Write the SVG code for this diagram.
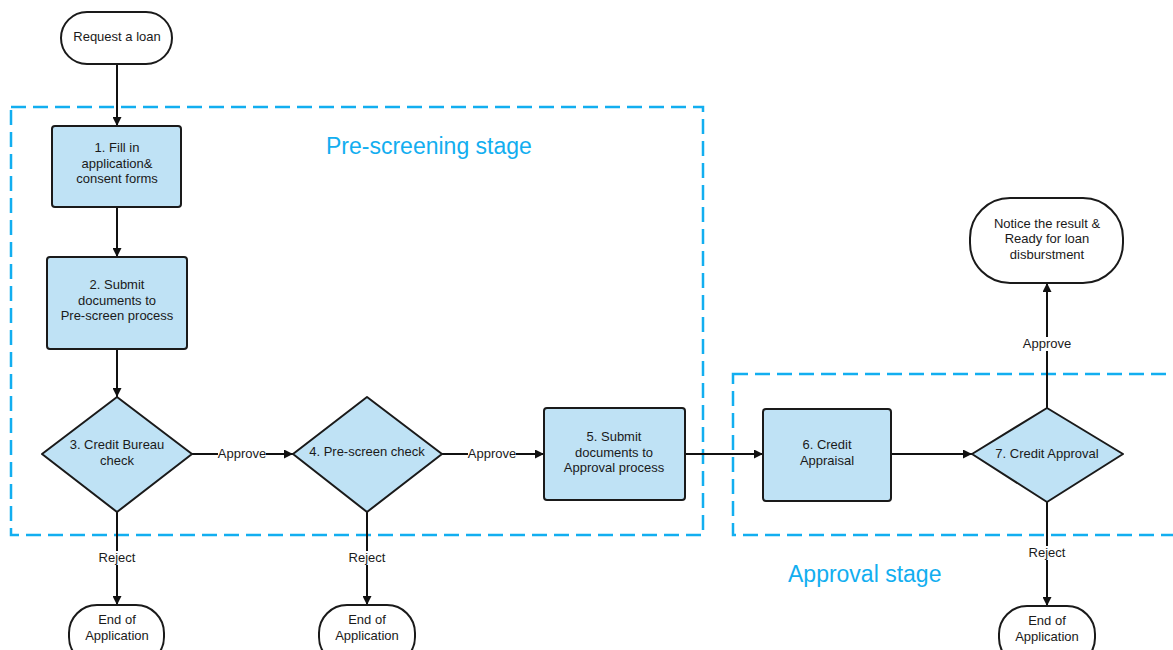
<svg xmlns="http://www.w3.org/2000/svg" width="1173" height="650" viewBox="0 0 1173 650">
  <defs>
    <marker id="arrow" viewBox="0 0 10 10" refX="10" refY="5" markerWidth="9" markerHeight="9" markerUnits="userSpaceOnUse" orient="auto">
      <path d="M0,0 L10,5 L0,10 z" fill="#111"/>
    </marker>
    <style>
      .term { fill: #ffffff; stroke: #1a1a1a; stroke-width: 2; }
      .proc { fill: #bfe2f5; stroke: #1a1a1a; stroke-width: 2; }
      .stage { fill: none; stroke: #12aef0; stroke-width: 2.5; stroke-dasharray: 15 7; }
      .stage-label { font-family: "Liberation Sans", Arial, sans-serif; font-size: 23px; fill: #12aef0; }
      .txt { font-family: "Liberation Sans", Arial, sans-serif; font-size: 13px; fill: #1a1a1a; text-anchor: middle; }
      .edge { fill: none; stroke: #111; stroke-width: 2; marker-end: url(#arrow); }
      .lbl-bg { fill: #ffffff; }
    </style>
  </defs>
  <rect width="1173" height="650" fill="#ffffff"/>

  <!-- stage frames -->
  <g id="stage-prescreening">
    <rect class="stage" x="11" y="107" width="692" height="428"/>
    <text class="stage-label" x="326" y="154">Pre-screening stage</text>
  </g>
  <g id="stage-approval">
    <rect class="stage" x="733" y="374" width="460" height="161"/>
    <text class="stage-label" x="788" y="582">Approval stage</text>
  </g>

  <!-- connectors -->
  <g id="connectors">
    <line class="edge" x1="117" y1="64" x2="117" y2="126"/>
    <line class="edge" x1="117" y1="207" x2="117" y2="257"/>
    <line class="edge" x1="117" y1="349" x2="117" y2="397"/>
    <line class="edge" x1="192" y1="454" x2="293" y2="454"/>
    <line class="edge" x1="442" y1="454" x2="544" y2="454"/>
    <line class="edge" x1="685" y1="454" x2="763" y2="454"/>
    <line class="edge" x1="891" y1="454" x2="972" y2="454"/>
    <line class="edge" x1="1047" y1="408" x2="1047" y2="283"/>
    <line class="edge" x1="1047" y1="502" x2="1047" y2="606"/>
    <line class="edge" x1="117" y1="512" x2="117" y2="605"/>
    <line class="edge" x1="367" y1="512" x2="367" y2="605"/>

    <rect class="lbl-bg" x="218" y="447" width="48" height="14"/>
    <text class="txt" x="242" y="458">Approve</text>
    <rect class="lbl-bg" x="468" y="447" width="48" height="14"/>
    <text class="txt" x="492" y="458">Approve</text>
    <rect class="lbl-bg" x="1022" y="337" width="50" height="14"/>
    <text class="txt" x="1047" y="348">Approve</text>
    <rect class="lbl-bg" x="96" y="551" width="42" height="14"/>
    <text class="txt" x="117" y="562">Reject</text>
    <rect class="lbl-bg" x="346" y="551" width="42" height="14"/>
    <text class="txt" x="367" y="562">Reject</text>
    <rect class="lbl-bg" x="1026" y="546" width="42" height="14"/>
    <text class="txt" x="1047" y="557">Reject</text>
  </g>

  <!-- nodes -->
  <g id="request-loan">
    <rect class="term" x="61" y="12" width="111" height="52" rx="26"/>
    <text class="txt" x="117" y="41">Request a loan</text>
  </g>
  <g id="fill-forms">
    <rect class="proc" x="52" y="126" width="129" height="81" rx="3"/>
    <text class="txt" x="117" y="152">1. Fill in</text>
    <text class="txt" x="117" y="168">application&amp;</text>
    <text class="txt" x="117" y="183">consent forms</text>
  </g>
  <g id="submit-prescreen">
    <rect class="proc" x="47" y="257" width="140" height="92" rx="3"/>
    <text class="txt" x="117" y="289">2. Submit</text>
    <text class="txt" x="117" y="305">documents to</text>
    <text class="txt" x="117" y="320">Pre-screen process</text>
  </g>
  <g id="credit-bureau">
    <path class="proc" d="M117,397 L192,454 L117,512 L42,454 Z" stroke-linejoin="round"/>
    <text class="txt" x="117" y="449">3. Credit Bureau</text>
    <text class="txt" x="117" y="465">check</text>
  </g>
  <g id="prescreen-check">
    <path class="proc" d="M367,397 L442,454 L367,512 L293,454 Z" stroke-linejoin="round"/>
    <text class="txt" x="367" y="456">4. Pre-screen check</text>
  </g>
  <g id="submit-approval">
    <rect class="proc" x="544" y="408" width="141" height="92" rx="3"/>
    <text class="txt" x="614" y="441">5. Submit</text>
    <text class="txt" x="614" y="457">documents to</text>
    <text class="txt" x="614" y="472">Approval process</text>
  </g>
  <g id="credit-appraisal">
    <rect class="proc" x="763" y="409" width="128" height="92" rx="3"/>
    <text class="txt" x="827" y="449">6. Credit</text>
    <text class="txt" x="827" y="465">Appraisal</text>
  </g>
  <g id="credit-approval">
    <path class="proc" d="M1047,408 L1123,454 L1047,502 L972,454 Z" stroke-linejoin="round"/>
    <text class="txt" x="1047" y="458">7. Credit Approval</text>
  </g>
  <g id="loan-ready">
    <rect class="term" x="970" y="198" width="153" height="85" rx="40"/>
    <text class="txt" x="1047" y="228">Notice the result &amp;</text>
    <text class="txt" x="1047" y="243">Ready for loan</text>
    <text class="txt" x="1047" y="259">disburstment</text>
  </g>
  <g id="end-bureau">
    <rect class="term" x="69" y="605" width="95" height="60" rx="28"/>
    <text class="txt" x="117" y="624">End of</text>
    <text class="txt" x="117" y="640">Application</text>
  </g>
  <g id="end-prescreen">
    <rect class="term" x="319" y="605" width="96" height="60" rx="28"/>
    <text class="txt" x="367" y="624">End of</text>
    <text class="txt" x="367" y="640">Application</text>
  </g>
  <g id="end-approval">
    <rect class="term" x="999" y="606" width="96" height="60" rx="28"/>
    <text class="txt" x="1047" y="625">End of</text>
    <text class="txt" x="1047" y="641">Application</text>
  </g>
</svg>
